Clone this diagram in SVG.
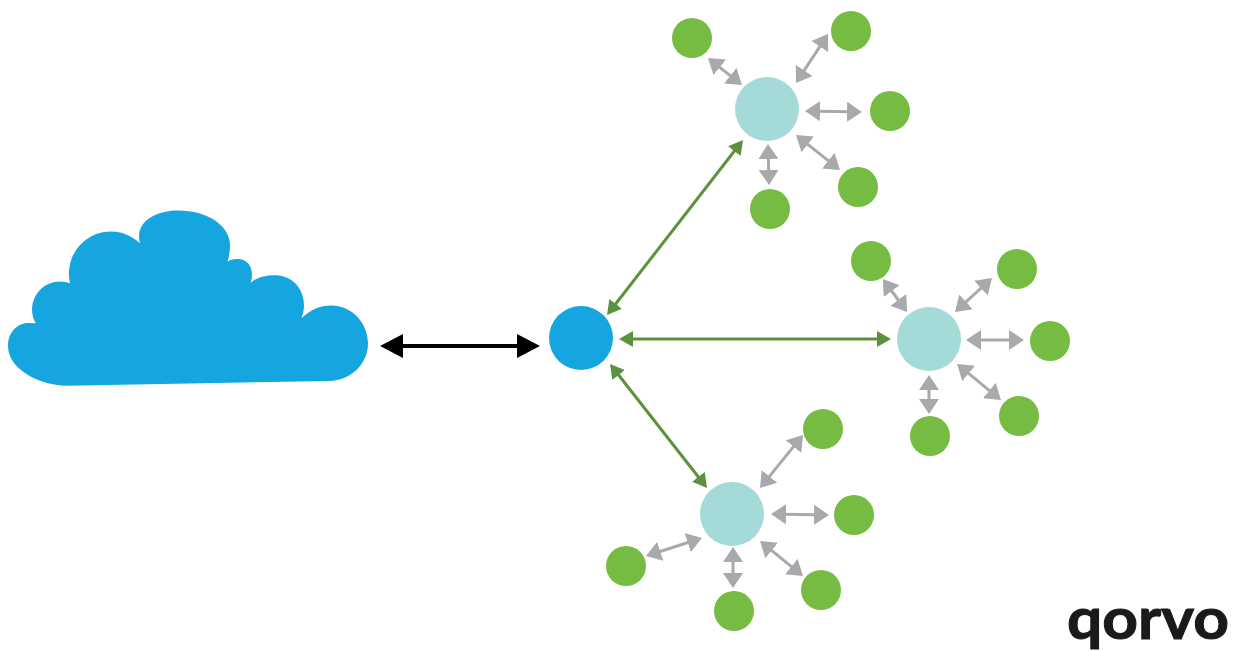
<svg xmlns="http://www.w3.org/2000/svg" width="1238" height="651" viewBox="0 0 1238 651">
<style>
.g{fill:#76bc43}.t{fill:#a4dad8}.h{fill:#15a6e0}
.ga{stroke:#a7a9ac;stroke-width:3;fill:none;marker-start:url(#mg);marker-end:url(#mg)}
.gr{stroke:#5b933c;stroke-width:3;fill:none;marker-start:url(#mv);marker-end:url(#mv)}
.bk{stroke:#000;stroke-width:4;fill:none;marker-start:url(#mb);marker-end:url(#mb)}
</style>
<defs>
<marker id="mg" markerUnits="userSpaceOnUse" markerWidth="15" markerHeight="20" refX="2" refY="10" orient="auto-start-reverse"><path d="M0 0L15 10L0 20Z" fill="#a7a9ac"/></marker>
<marker id="mv" markerUnits="userSpaceOnUse" markerWidth="14" markerHeight="16" refX="2" refY="8" orient="auto-start-reverse"><path d="M0 0L14 8L0 16Z" fill="#5b933c"/></marker>
<marker id="mb" markerUnits="userSpaceOnUse" markerWidth="23" markerHeight="24" refX="2" refY="12" orient="auto-start-reverse"><path d="M0 0L23 12L0 24Z" fill="#000"/></marker>
</defs>
<g id="connectors">
<path class="bk" d="M401 346H519"/>
<path class="gr" d="M735.600 149.500L614.400 305.500"/>
<path class="gr" d="M631 339H879"/>
<path class="gr" d="M617.400 373.500L699.600 478.500"/>
<path class="ga" d="M718.200 66.100L731.800 76.900"/>
<path class="ga" d="M820.900 44.900L803.100 72.100"/>
<path class="ga" d="M818 111.200L849 111.800"/>
<path class="ga" d="M806.200 143.100L829.800 161.900"/>
<path class="ga" d="M768.300 157L768.700 172"/>
<path class="ga" d="M890.600 289.500L899.400 301.500"/>
<path class="ga" d="M982.400 286.800L964.600 303.200"/>
<path class="ga" d="M979 340H1011"/>
<path class="ga" d="M967.100 372.200L990.900 391.800"/>
<path class="ga" d="M929 388V401"/>
<path class="ga" d="M794.800 445.100L768.200 477.900"/>
<path class="ga" d="M784 514.200L816 514.800"/>
<path class="ga" d="M770.100 549.200L792.900 567.800"/>
<path class="ga" d="M733 560V575"/>
<path class="ga" d="M689.600 542L658.400 552"/>
</g>
<g id="cloud"><path class="h" d="M35.700 323.300A28 28 0 0 1 70 283.300A42 42 0 0 1 140 243.300C135 225 150 212 175 210.500C205 209 232 225 230 248C229.500 253 229 258 227.300 261.700C233 258 245 257 250 266C252.500 271 252.500 277 250.700 282.700C258 276 270 274.500 279 275.500C296 278 304 292 304 305C304 310 303 314 301.700 318.300C310 310 320 305.500 331 305.500C352 305.500 368 323 368 343.500C368 363 352 380.500 329 381L67 385.700C45 386 8 372 8 345.700C8 332 18 322.500 29 323Z"/></g>
<g id="hub"><circle class="h" cx="581" cy="338" r="32"/></g>
<g id="relay-top"><circle class="t" cx="767" cy="109" r="32"/></g>
<g id="relay-right"><circle class="t" cx="929" cy="339" r="32"/></g>
<g id="relay-bottom"><circle class="t" cx="732" cy="514" r="32"/></g>
<g id="n1"><circle class="g" cx="692" cy="38" r="20"/></g>
<g id="n2"><circle class="g" cx="851" cy="31" r="20"/></g>
<g id="n3"><circle class="g" cx="890" cy="111" r="20"/></g>
<g id="n4"><circle class="g" cx="858" cy="187" r="20"/></g>
<g id="n5"><circle class="g" cx="770" cy="209" r="20"/></g>
<g id="n6"><circle class="g" cx="871" cy="261" r="20"/></g>
<g id="n7"><circle class="g" cx="1017" cy="269" r="20"/></g>
<g id="n8"><circle class="g" cx="1050" cy="341" r="20"/></g>
<g id="n9"><circle class="g" cx="1019" cy="416" r="20"/></g>
<g id="n10"><circle class="g" cx="930" cy="436" r="20"/></g>
<g id="n11"><circle class="g" cx="823" cy="429" r="20"/></g>
<g id="n12"><circle class="g" cx="854" cy="515" r="20"/></g>
<g id="n13"><circle class="g" cx="821" cy="590" r="20"/></g>
<g id="n14"><circle class="g" cx="734" cy="611" r="20"/></g>
<g id="n15"><circle class="g" cx="626" cy="566" r="20"/></g>
<g id="logo"><text x="1067" y="639" font-family="Lato,'DejaVu Sans',sans-serif" font-weight="700" font-size="58" textLength="162" lengthAdjust="spacingAndGlyphs" fill="#1a1a1a" stroke="#1a1a1a" stroke-width="1">qorvo</text></g>
</svg>
